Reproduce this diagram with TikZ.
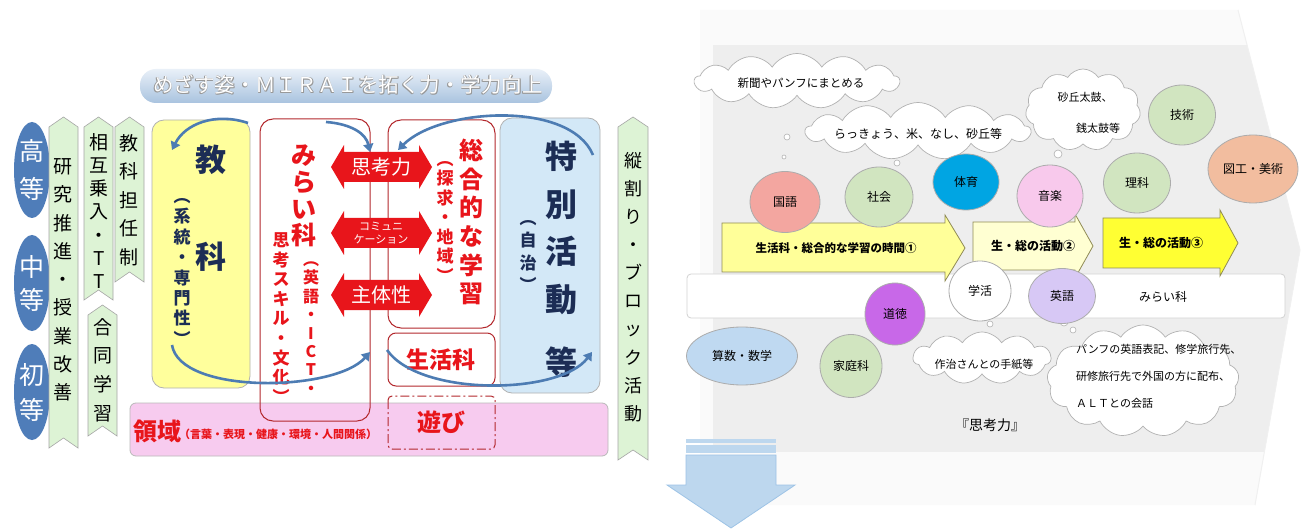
\documentclass[tikz,border=0pt]{standalone}
\usepackage{fontspec}
\setmainfont{Noto Sans CJK JP}
\usetikzlibrary{shapes.symbols,shapes.geometric,arrows.meta}
\definecolor{kred}{HTML}{E8151B}
\definecolor{boxred}{HTML}{B3282D}
\definecolor{navy}{HTML}{1C2D55}
\definecolor{ovalblue}{HTML}{4F7DB9}
\definecolor{gfill}{HTML}{DDF3D5}
\definecolor{yel}{HTML}{FFFF9C}
\definecolor{tokucol}{HTML}{D3E8F7}
\definecolor{pinkcol}{HTML}{F7CBEF}
\definecolor{arcblue}{HTML}{4D7CB3}
\definecolor{bgray}{HTML}{EEEEEE}
\definecolor{chevlight}{HTML}{FAFAFA}
\definecolor{downblue}{HTML}{BDD7EE}
\definecolor{downedge}{HTML}{9DC3E6}
\definecolor{ckoku}{HTML}{F3A6A0}
\definecolor{cgreen}{HTML}{D1E5C0}
\definecolor{ctai}{HTML}{00A5E3}
\definecolor{congaku}{HTML}{F8C9EC}
\definecolor{czuko}{HTML}{F2BD9F}
\definecolor{ceigo}{HTML}{D7C8F5}
\definecolor{cdoto}{HTML}{C868E8}
\definecolor{csansu}{HTML}{BFD9F1}
\definecolor{yaone}{HTML}{FFFF99}
\definecolor{yatwo}{HTML}{FFFFD2}
\definecolor{yathree}{HTML}{FFFF33}
\definecolor{bannerA}{HTML}{E9F0F8}
\definecolor{bannerB}{HTML}{A9C3DF}
\makeatletter
\newcommand\vstack[1]{%
  \vbox{\lineskiplimit=-100pt\lineskip=0pt
  \@tfor\vs@c:=#1\do{\hbox to 1em{\hss\vs@c\hss}}}}
\makeatother
\newcommand\fs[2]{\fontsize{#1}{#2}\selectfont}
\begin{document}
\begin{tikzpicture}[x=1pt,y=-1pt,
  vt/.style={inner sep=0pt},
  gchevst/.style={draw=gray!70, fill=gfill, line width=0.6pt},
  redbox/.style={draw=boxred, line width=1pt, rounded corners=13pt},
  ovalst/.style={ellipse, fill=ovalblue, inner sep=0pt, minimum width=36pt, minimum height=96pt},
  circst/.style={ellipse, draw=gray!65, line width=0.8pt, inner sep=0pt, font=\fs{12}{14}},
  cloudst/.style={cloud, cloud puffs=13, cloud puff arc=115, draw=gray!60, fill=white, line width=0.7pt, inner sep=0pt},
  bub/.style={draw=gray!60, fill=white, line width=0.6pt},
  yarr/.style={draw=gray!60!olive, line width=0.8pt},
  ytxt/.style={inner sep=0pt, font=\bfseries\fs{12}{14}},
  arcst/.style={draw=arcblue, line width=2.6pt, -{Triangle[length=8pt,width=10pt]}},
  smalltxt/.style={inner sep=0pt, font=\fs{11.5}{14}}]
\useasboundingbox (0,0) rectangle (1306,529);
\fill[white] (0,0) rectangle (1306,529);

%================ RIGHT PANEL =================
\fill[chevlight] (700,10) -- (1238,10) -- (1300,250) -- (1255,505) -- (700,505) -- cycle;
\begin{scope}
\clip (700,10) -- (1238,10) -- (1300,250) -- (1255,505) -- (700,505) -- cycle;
\fill[bgray] (713,45) rectangle (1300,452);
\end{scope}
\draw[gray!12, line width=1pt] (1238,10) -- (1300,250) -- (1255,505);

% band
\draw[rounded corners=4pt, fill=white, draw=gray!35, line width=0.8pt] (687,274) rectangle (1285,318);
\node[smalltxt, font=\fs{12}{14}] (bandtxt) at (1163,297) {みらい科};

% yellow arrows
\draw[yarr, fill=yaone] (722,223) -- (945,223) -- (945,215) -- (965,248) -- (945,281) -- (945,272) -- (722,272) -- cycle;
\node[ytxt, font=\bfseries\fs{11.5}{14}] (yaA) at (836,248) {生活科・総合的な学習の時間①};
\draw[yarr, fill=yatwo] (973,222) -- (1075,222) -- (1075,214) -- (1093,246) -- (1075,278) -- (1075,270) -- (973,270) -- cycle;
\node[ytxt] (yaB) at (1033,246) {生・総の活動②};
\draw[yarr, fill=yathree] (1103,218) -- (1220,218) -- (1220,210) -- (1238,243) -- (1220,276) -- (1220,268) -- (1103,268) -- cycle;
\node[ytxt] (yaC) at (1161,243) {生・総の活動③};

% clouds
\node[cloudst, aspect=3.7, minimum width=205pt, minimum height=55pt] (cA) at (797,81) {};
\node[smalltxt] (cAt) at (801,83) {新聞やパンフにまとめる};
\node[cloudst, aspect=3.9, minimum width=225pt, minimum height=57pt] (cB) at (918,131) {};
\node[smalltxt, font=\fs{12}{14}] (cBt) at (918,134) {らっきょう、米、なし、砂丘等};
\node[cloudst, cloud puffs=11, aspect=1.4, minimum width=115pt, minimum height=82pt] (cC) at (1083,110) {};
\node[smalltxt, font=\fs{11}{13}] (cCt1) at (1085,97) {砂丘太鼓、};
\node[smalltxt, font=\fs{11}{13}] (cCt2) at (1098,128) {銭太鼓等};
\node[cloudst, cloud puffs=11, aspect=2.65, minimum width=138pt, minimum height=52pt] (cD) at (982,358) {};
\node[smalltxt, font=\fs{11}{13}] (cDt) at (984,364) {作治さんとの手紙等};
\node[cloudst, cloud puffs=13, aspect=1.7, minimum width=192pt, minimum height=112pt] (cE) at (1143,381) {};
\node[smalltxt, font=\fs{11}{27}, align=left, anchor=west] (cEt) at (1076,376) {パンフの英語表記、修学旅行先、\\研修旅行先で外国の方に配布、\\ＡＬＴとの会話};

% bubble dots
\draw[bub] (787,137) circle[radius=3];
\draw[bub] (784,157) circle[radius=2];
\draw[bub] (897,163) circle[radius=3];
\draw[bub] (1058,154) circle[radius=4];
\draw[bub] (1052,168) circle[radius=2.5];
\draw[bub] (990,324) circle[radius=3];
\draw[bub] (1064,322) circle[radius=4];
\draw[bub] (1073,330) circle[radius=3];

% subject circles
\node[circst, fill=ckoku, minimum width=70pt, minimum height=61pt] (kokugo) at (785,202) {国語};
\node[circst, fill=cgreen, minimum width=68pt, minimum height=60pt] (shakai) at (879,197) {社会};
\node[circst, fill=ctai, minimum width=66pt, minimum height=56pt] (taiiku) at (966,182) {体育};
\node[circst, fill=congaku, minimum width=66pt, minimum height=62pt] (ongaku) at (1050,196) {音楽};
\node[circst, fill=cgreen, minimum width=67pt, minimum height=60pt] (rika) at (1137,183) {理科};
\node[circst, fill=cgreen, minimum width=67pt, minimum height=60pt] (gijutsu) at (1182,115) {技術};
\node[circst, fill=czuko, minimum width=90pt, minimum height=68pt] (zuko) at (1253,169) {図工・美術};
\node[circst, fill=white, minimum width=62pt, minimum height=60pt] (gakkatsu) at (980,291) {学活};
\node[circst, fill=ceigo, minimum width=67pt, minimum height=55pt] (eigo) at (1062,296) {英語};
\node[circst, fill=cdoto, minimum width=60pt, minimum height=62pt] (dotoku) at (895,314) {道徳};
\node[circst, fill=cgreen, minimum width=62pt, minimum height=63pt] (katei) at (851,366) {家庭科};
\node[circst, fill=csansu, minimum width=111pt, minimum height=58pt] (sansu) at (742,356) {算数・数学};

\node[inner sep=0pt, font=\fs{14}{16}] (shikoryoku) at (990,425) {『思考力』};

% down arrow
\fill[downblue] (686,439) rectangle (776,443);
\fill[downblue] (686,445) rectangle (776,453);
\draw[downedge, fill=downblue, line width=0.8pt] (686,455) -- (776,455) -- (776,485) -- (795,485) -- (731,528) -- (667,485) -- (686,485) -- cycle;

%================ LEFT PANEL =================
% banner
\shade[top color=bannerA, bottom color=bannerB, rounded corners=16pt] (140,69) rectangle (552,103);
\foreach \dx/\dy in {0.7/0.7,-0.7/0.7,0.7/-0.7,-0.7/-0.7}
  \node[inner sep=0pt, font=\fs{20.5}{22}, text=gray!80] at (348+\dx,85+\dy) {めざす姿・ＭＩＲＡＩを拓く力・学力向上};
\node[inner sep=0pt, font=\fs{20.5}{22}, text=white] (banner) at (348,85) {めざす姿・ＭＩＲＡＩを拓く力・学力向上};

% ovals
\node[ovalst] (kotou) at (32,170) {};
\node[ovalst] (chutou) at (32,283) {};
\node[ovalst] (shotou) at (32,392) {};
\node[vt, text=white, font=\fs{25}{38}] at (kotou) {\vstack{高等}};
\node[vt, text=white, font=\fs{25}{33}] at (chutou) {\vstack{中等}};
\node[vt, text=white, font=\fs{25}{35}] at (shotou) {\vstack{初等}};

% green chevrons
\newcommand\gchev[4]{\draw[gchevst] (#1,#2+10) -- ({(#1+#3)/2},#2) -- (#3,#2+10) -- (#3,#4) -- ({(#1+#3)/2},#4-10) -- (#1,#4) -- cycle;}
\gchev{49}{117}{78}{448}
\gchev{84}{117}{113}{300}
\gchev{88}{305}{117}{436}
\gchev{115}{117}{144}{282}
\gchev{618}{117}{648}{460}
\node[vt, font=\fs{19}{28.3}] (kenkyu) at (63,280) {\vstack{研究推進・授業改善}};
\node[vt, font=\fs{19}{23.2}] (sougo) at (99,211) {\vstack{相互乗入・TT}};
\node[vt, font=\fs{19}{28.7}] (goudou) at (103,370) {\vstack{合同学習}};
\node[vt, font=\fs{19}{28.5}] (tannin) at (129,200) {\vstack{教科担任制}};
\node[vt, font=\fs{18}{28.1}] (tatewari) at (633,287) {\vstack{縦割り・ブロック活動}};

% kyouka box
\draw[draw=gray!60, fill=yel, rounded corners=12pt, line width=0.8pt] (152,120) rectangle (250,388);
\node[vt, text=navy, font=\bfseries\fs{31}{33}] (kyo) at (211,160) {教};
\node[vt, text=navy, font=\bfseries\fs{31}{33}] (ka) at (211,257) {科};
\node[vt, text=navy, font=\bfseries\fs{17}{20.4}] (keitou) at (182,272) {\vstack{︵系統・専門性︶}};

% tokubetsu box
\draw[draw=gray!60, fill=tokucol, rounded corners=12pt, line width=0.8pt] (500,118) rectangle (600,393);
\node[vt, text=navy, font=\bfseries\fs{32}{47.7}] (toku) at (561,228) {\vstack{特別活動}};
\node[vt, text=navy, font=\bfseries\fs{32}{34}] (tou) at (561,362) {等};
\node[vt, text=navy, font=\bfseries\fs{17}{22.3}] (jichi) at (528,256) {\vstack{︵自治︶}};

% pink ryouiki box
\draw[draw=gray!55, fill=pinkcol, rounded corners=6pt, line width=0.8pt] (130,403) rectangle (608,456);
\node[inner sep=0pt, text=kred, font=\bfseries\fs{24}{26}] (ryouiki) at (157,431) {領域};
\node[inner sep=0pt, text=kred, font=\bfseries\fs{11}{13}, anchor=west] (ryouiki2) at (179,434) {（言葉・表現・健康・環境・人間関係）};

% red boxes
\draw[redbox] (260,119) rectangle (370,421);
\draw[redbox] (388,120) rectangle (495,328);
\draw[redbox, rounded corners=8pt] (388,333) rectangle (495,386);
\draw[redbox, rounded corners=4pt, dash pattern=on 9pt off 3pt on 2pt off 3pt] (388,396) rectangle (495,449);

% mirai-ka texts
\node[vt, text=kred, font=\bfseries\fs{25}{26.7}] (miraika) at (304,196) {\vstack{みらい科}};
\node[vt, text=kred, font=\bfseries\fs{16}{18.4}] (eigoict) at (311,328) {\vstack{︵英語・ICT・}};
\node[vt, text=kred, font=\bfseries\fs{17}{19.6}] (shikosk) at (281,318) {\vstack{思考スキル・文化︶}};

% sougou texts
\node[vt, text=kred, font=\bfseries\fs{24}{28.6}] (sougou) at (471,222) {\vstack{総合的な学習}};
\node[vt, text=kred, font=\bfseries\fs{17}{19.5}] (tankyu) at (445,222) {\vstack{︵探求・地域︶}};
\node[inner sep=0pt, text=kred, font=\bfseries\fs{23}{25}] (seikatsu) at (441,360) {生活科};
\node[inner sep=0pt, text=kred, font=\bfseries\fs{24}{26}] (asobi) at (441,422) {遊び};

% double arrows
\newcommand\dblarr[1]{\fill[kred] (331,#1) -- (344,#1-22) -- (344,#1-15) -- (419,#1-15) -- (419,#1-22) -- (432,#1) -- (419,#1+22) -- (419,#1+15) -- (344,#1+15) -- (344,#1+22) -- cycle;}
\dblarr{167}
\dblarr{233}
\dblarr{295}
\node[inner sep=0pt, text=white, font=\fs{20}{22}] (shikou) at (381,167) {思考力};
\node[inner sep=0pt, text=white, font=\fs{11}{13}, align=center] (comm) at (381,233) {コミュニ\\ケーション};
\node[inner sep=0pt, text=white, font=\fs{20}{22}] (shutai) at (381,295) {主体性};

% cycle arcs
\coordinate (a1s) at (248,123); \coordinate (a1e) at (172,150);
\draw[arcst] (a1s) .. controls (215,112) and (185,124) .. (a1e);
\coordinate (a2s) at (172,345); \coordinate (a2e) at (370,352);
\draw[arcst] (a2s) .. controls (180,395) and (335,392) .. (a2e);
\coordinate (a3s) at (326,122); \coordinate (a3e) at (370,152);
\draw[arcst] (a3s) .. controls (352,124) and (366,134) .. (a3e);
\coordinate (a4s) at (593,155); \coordinate (a4e) at (398,150);
\draw[arcst] (a4s) .. controls (570,100) and (440,108) .. (a4e);
\coordinate (a5s) at (387,350); \coordinate (a5e) at (592,352);
\draw[arcst] (a5s) .. controls (420,397) and (560,395) .. (a5e);
\end{tikzpicture}
\end{document}
